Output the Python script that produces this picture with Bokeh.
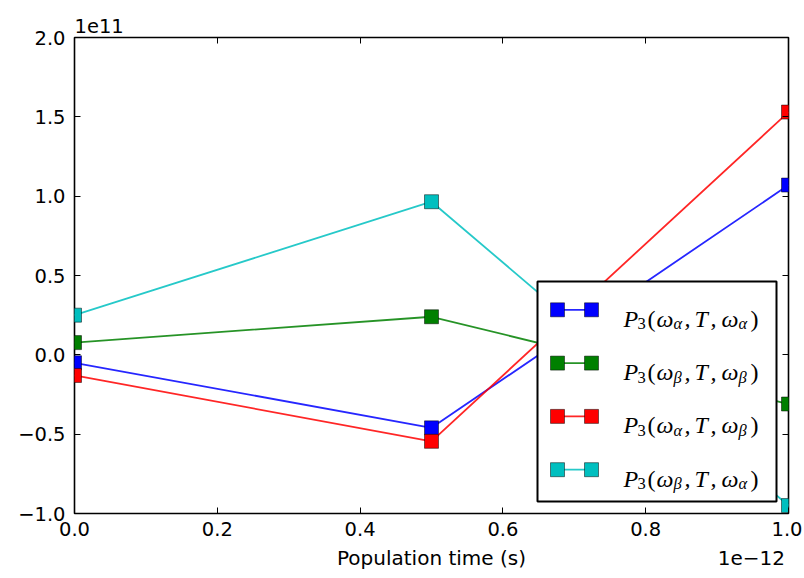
from bokeh.plotting import figure
from bokeh.models import (FixedTicker, CustomJSTickFormatter, LinearAxis, Label,
                          BoxAnnotation, Range1d, Title)
from bokeh.embed import file_html
from bokeh.resources import INLINE

# ---------------- data ----------------
time_s = [0.0, 0.5e-12, 1.0e-12]
p3_aa = [-0.05e11, -0.46e11, 1.07e11]     # P3(wa, T, wa)  blue
p3_bb = [0.077e11, 0.24e11, -0.31e11]     # P3(wb, T, wb)  green
p3_ab = [-0.13e11, -0.545e11, 1.53e11]    # P3(wa, T, wb)  red
p3_ba = [0.25e11, 0.965e11, -0.95e11]     # P3(wb, T, wa)  cyan

series_values = [p3_aa, p3_bb, p3_ab, p3_ba]
series_colors = ["#0000ff", "#008000", "#ff0000", "#00bfbf"]
series_subs = [("α", "α"), ("β", "β"), ("α", "β"), ("β", "α")]

x_ticks = [0.0, 0.2e-12, 0.4e-12, 0.6e-12, 0.8e-12, 1.0e-12]
y_ticks = [-1.0e11, -0.5e11, 0.0, 0.5e11, 1.0e11, 1.5e11, 2.0e11]
x_limits = (0.0, 1.0e-12)
y_limits = (-1.0e11, 2.0e11)
x_label = "Population time (s)"
x_offset_text = "1e\u221212"
y_offset_text = "1e11"

# ---------------- figure ----------------
FW, FH = 714, 476
p = figure(frame_width=FW, frame_height=FH,
           x_range=Range1d(*x_limits), y_range=Range1d(*y_limits),
           output_backend="svg", toolbar_location=None,
           min_border_left=74, min_border_right=14,
           min_border_top=37, min_border_bottom=65,
           background_fill_color="white", border_fill_color="white")
p.grid.visible = False
p.outline_line_color = "black"
p.outline_line_width = 1.6

TICK_FONT = "DejaVu Sans"
TICK_SIZE = "19.5px"

p.xaxis.ticker = FixedTicker(ticks=x_ticks)
p.yaxis.ticker = FixedTicker(ticks=y_ticks)
p.xaxis.formatter = CustomJSTickFormatter(
    code="return (tick/1e-12).toFixed(1).replace('-', '\u2212');")
p.yaxis.formatter = CustomJSTickFormatter(
    code="return (tick/1e11).toFixed(1).replace('-', '\u2212');")

for ax in (p.xaxis[0], p.yaxis[0]):
    ax.axis_line_color = None
    ax.major_tick_in = 6
    ax.major_tick_out = 0
    ax.major_tick_line_color = "black"
    ax.major_tick_line_width = 1
    ax.minor_tick_line_color = None
    ax.major_label_text_font = TICK_FONT
    ax.major_label_text_font_size = TICK_SIZE
    ax.major_label_text_color = "black"
p.xaxis.major_label_standoff = 8
p.yaxis.major_label_standoff = 9

for loc, ticks in (("above", x_ticks), ("right", y_ticks)):
    ax = LinearAxis(ticker=FixedTicker(ticks=ticks),
                    formatter=CustomJSTickFormatter(code="return '';"),
                    axis_line_color=None, major_tick_in=6, major_tick_out=0,
                    major_tick_line_color="black", minor_tick_line_color=None,
                    major_label_text_font_size="0px", major_label_standoff=0)
    p.add_layout(ax, loc)

# second row below the x tick labels: axis label (centred) and offset text (right)
text_axis = LinearAxis(
    ticker=FixedTicker(ticks=[0.5e-12, 0.948e-12]),
    formatter=CustomJSTickFormatter(
        args=dict(lab=x_label, off=x_offset_text),
        code="return Math.abs(tick - 0.5e-12) < 1e-15 ? lab : off;"),
    axis_line_color=None, major_tick_line_color=None, minor_tick_line_color=None,
    major_tick_in=0, major_tick_out=0, major_label_standoff=7,
    major_label_text_font=TICK_FONT, major_label_text_font_size="20px",
    major_label_text_color="black")
p.add_layout(text_axis, "below")

# offset text above the frame, left aligned
p.add_layout(Title(text=y_offset_text, align="left", text_font=TICK_FONT,
                   text_font_size=TICK_SIZE, text_font_style="normal",
                   text_color="black", standoff=10), "above")

# ---------------- series ----------------
for vals, col in zip(series_values, series_colors):
    p.line(time_s, vals, line_color=col, line_width=1.8, line_alpha=0.85)
    p.scatter(time_s, vals, marker="square", size=14, fill_color=col,
              line_color="black", line_width=0.7, line_alpha=0.7)

# ---------------- legend (drawn by hand, matplotlib style) ----------------
LG_L, LG_R, LG_B, LG_T = 463, 702, 12, 232
p.add_layout(BoxAnnotation(left=LG_L, right=LG_R, bottom=LG_B, top=LG_T,
                           left_units="screen", right_units="screen",
                           bottom_units="screen", top_units="screen",
                           fill_color="white", fill_alpha=1.0,
                           line_color="black", line_width=2, line_alpha=1.0))
row_y = [203.7, 150.4, 97.1, 43.8]
mk_x = [483, 517]
MK = 7
TX0 = 549
main_size, sub_size = "24px", "16.5px"
piece_dx = [0, 14, 24, 33, 50, 61, 71, 87, 98, 115, 127]

for cy, col, (s1, s2) in zip(row_y, series_colors, series_subs):
    p.add_layout(BoxAnnotation(left=mk_x[0], right=mk_x[1], bottom=cy - 0.9, top=cy + 0.9,
                               left_units="screen", right_units="screen",
                               bottom_units="screen", top_units="screen",
                               fill_color=col, fill_alpha=0.85, line_color=None))
    for mx in mk_x:
        p.add_layout(BoxAnnotation(left=mx - MK, right=mx + MK, bottom=cy - MK, top=cy + MK,
                                   left_units="screen", right_units="screen",
                                   bottom_units="screen", top_units="screen",
                                   fill_color=col, fill_alpha=1.0,
                                   line_color="black", line_width=0.7, line_alpha=0.7))
    pieces = [("P", "italic", False), ("3", "normal", True), ("(", "normal", False),
              ("ω", "italic", False), (s1, "italic", True), (",", "italic", False),
              ("T", "italic", False), (",", "italic", False), ("ω", "italic", False),
              (s2, "italic", True), (")", "normal", False)]
    for (txt, style, is_sub), dx in zip(pieces, piece_dx):
        p.add_layout(Label(x=TX0 + dx, y=cy - (14 if is_sub else 9),
                           x_units="screen", y_units="screen", text=txt,
                           text_font="Liberation Serif", text_font_style=style,
                           text_font_size=sub_size if is_sub else main_size,
                           text_align="left", text_baseline="alphabetic",
                           text_color="black"))

open("out.html", "w").write(file_html(p, INLINE))
